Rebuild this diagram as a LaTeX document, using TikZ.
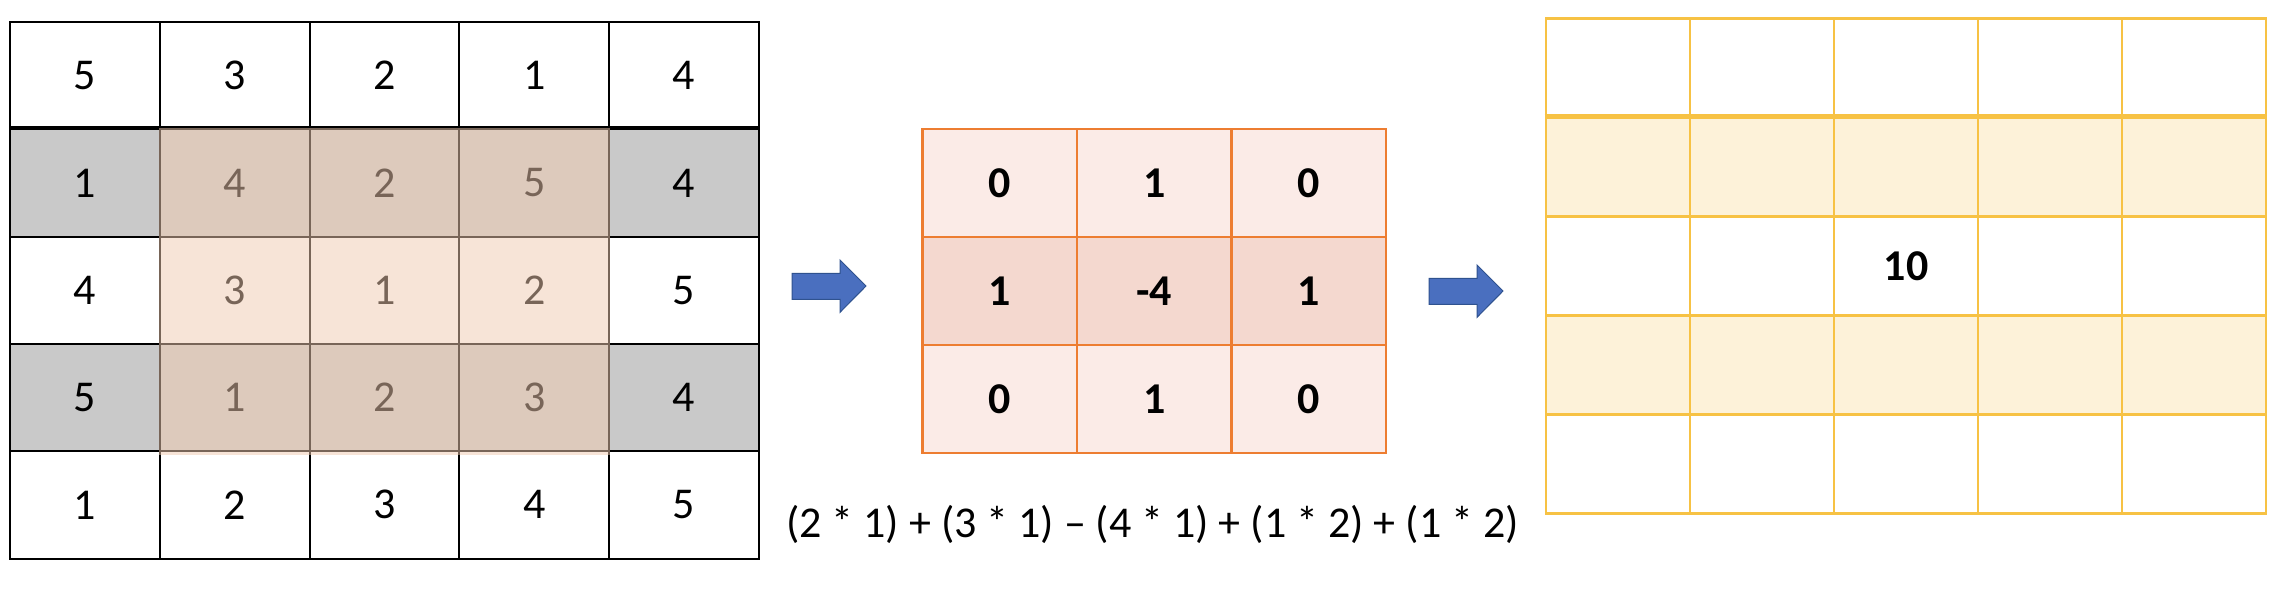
\documentclass[tikz,border=0pt]{standalone}
\usepackage{fontspec}
\setmainfont{Carlito}
\definecolor{grayc}{HTML}{C9C9C9}
\definecolor{overc}{HTML}{F1CBB1}
\definecolor{orangec}{HTML}{ED7D31}
\definecolor{midlight}{HTML}{FBEBE7}
\definecolor{middark}{HTML}{F4D8CF}
\definecolor{goldc}{HTML}{F7C244}
\definecolor{goldlight}{HTML}{FDF2D9}
\definecolor{arrowfill}{HTML}{4A6FBF}
\definecolor{arrowdraw}{HTML}{2F528F}
\begin{document}
\begin{tikzpicture}[x=0.5pt,y=-0.5pt,
  txt/.style={font=\fontsize{22}{26}\selectfont},
  cellL/.style={draw=black, line width=1pt, minimum width=74.9pt, minimum height=53.65pt, inner sep=0pt, txt},
  cellM/.style={draw=orangec, line width=1.3pt, minimum width=77.25pt, minimum height=54pt, inner sep=0pt, font=\fontsize{22}{26}\selectfont\bfseries},
  cellR/.style={draw=goldc, line width=1.3pt, minimum width=72pt, minimum height=49.5pt, inner sep=0pt, font=\fontsize{22}{26}\selectfont\bfseries},
  blockarrow/.style={fill=arrowfill, draw=arrowdraw, line width=0.5pt, line join=miter}]
\useasboundingbox (0,0) rectangle (2292,600);
\fill[white] (0,0) rectangle (2292,600);

% ---------- left 5x5 grid ----------
\foreach \r/\f/\vals in {0/white/{5,3,2,1,4},1/grayc/{1,4,2,5,4},2/white/{4,3,1,2,5},3/grayc/{5,1,2,3,4},4/white/{1,2,3,4,5}}{
  \foreach \v [count=\ci from 0] in \vals {
    \node[cellL, fill=\f] (L-\r-\ci) at ({10+(\ci+0.5)*149.8},{22+(\r+0.5)*107.3}) {\v};
  }
}
\draw[line width=2pt] (L-1-0.north west) -- (L-1-4.north east);
\fill[overc, fill opacity=0.5] (L-1-1.north west) rectangle ([yshift=-1.5pt]L-3-3.south east);

% ---------- middle 3x3 kernel ----------
\foreach \r/\f/\vals in {0/midlight/{0,1,0},1/middark/{1,-4,1},2/midlight/{0,1,0}}{
  \foreach \v [count=\ci from 0] in \vals {
    \node[cellM, fill=\f] (M-\r-\ci) at ({922.5+(\ci+0.5)*154.5},{129+(\r+0.5)*108}) {\v};
  }
}
\node[txt, anchor=base] (formula) at (1152.5,537) {(2 * 1) + (3 * 1) – (4 * 1) + (1 * 2) + (1 * 2)};

% ---------- right 5x5 output ----------
\foreach \r/\f in {0/white,1/goldlight,2/white,3/goldlight,4/white}{
  \foreach \ci in {0,...,4} {
    \node[cellR, fill=\f] (R-\r-\ci) at ({1546+(\ci+0.5)*144},{18.3+(\r+0.5)*99}) {};
  }
}
\node[cellR, draw=none, fill=none] (R-val) at (R-2-2) {10};
\draw[goldc, line width=2.2pt] (R-1-0.north west) -- (R-1-4.north east);

% ---------- arrows ----------
\coordinate (a1) at (792,273.3);
\coordinate (a2) at (1429,278.3);
\foreach \a in {a1,a2}{
  \draw[blockarrow] (\a) -- ++(48,0) -- ++(0,-13.3) -- ++(26,26) -- ++(-26,26.3) -- ++(0,-13) -- ++(-48,0) -- cycle;
}
\end{tikzpicture}
\end{document}
